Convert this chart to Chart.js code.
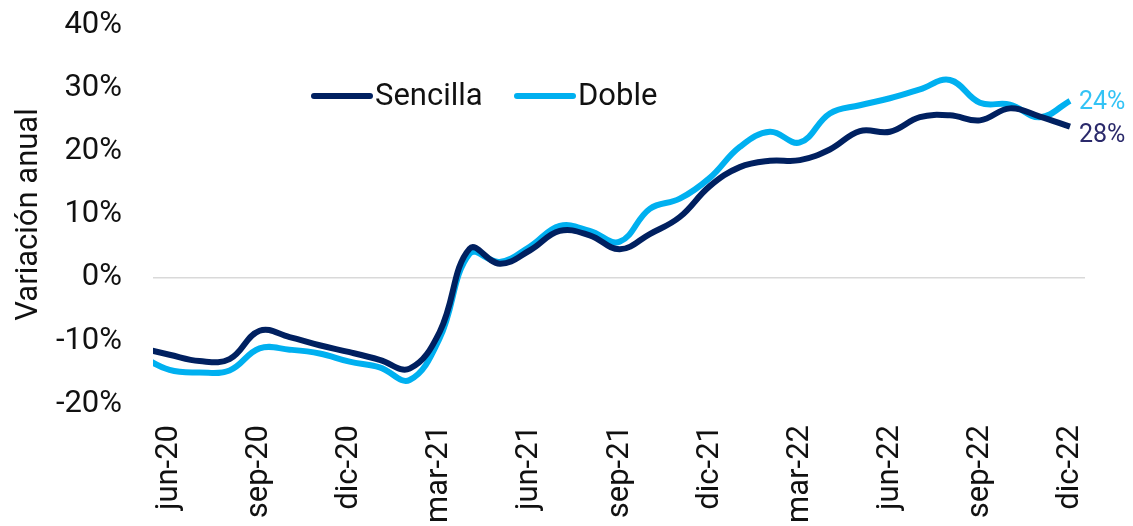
<!DOCTYPE html>
<html lang="es">

<head>
    <meta charset="UTF-8">
    <title>Variación anual</title>
    <script src="https://cdn.jsdelivr.net/npm/chart.js"></script>
    <style>
        body { margin: 0; background: #fff; }
        .chart-box { width: 1133px; height: 526px; position: relative; }
    </style>
</head>

<body>
    <div class="chart-box">
        <canvas id="myChart"></canvas>
    </div>

    <script>
        // monthly data, may-20 .. dic-22 (may-20 only feeds the clipped left edge)
        const months = ['may-20', 'jun-20', 'jul-20', 'ago-20', 'sep-20', 'oct-20', 'nov-20', 'dic-20',
            'ene-21', 'feb-21', 'mar-21', 'abr-21', 'may-21', 'jun-21', 'jul-21', 'ago-21', 'sep-21',
            'oct-21', 'nov-21', 'dic-21', 'ene-22', 'feb-22', 'mar-22', 'abr-22', 'may-22', 'jun-22',
            'jul-22', 'ago-22', 'sep-22', 'oct-22', 'nov-22', 'dic-22'];

        const sencilla = [-11.1, -12.2, -13.2, -12.9, -8.4, -9.4, -10.7, -11.8,
            -13.0, -14.4, -8.6, 4.6, 2.2, 4.3, 7.4, 6.7, 4.5,
            6.9, 9.6, 14.5, 17.5, 18.5, 18.6, 20.3, 23.2, 23.1,
            25.4, 25.7, 24.9, 26.8, 25.5, 23.9];

        const doble = [-12.3, -14.6, -15.0, -14.7, -11.2, -11.4, -12.0, -13.3,
            -14.2, -16.2, -9.6, 3.8, 2.5, 4.9, 8.2, 7.4, 5.7,
            10.9, 12.5, 15.8, 20.7, 23.1, 21.4, 26.0, 27.3, 28.4,
            29.8, 31.3, 27.7, 27.4, 25.4, 28.0];

        const tickLabels = ['jun-20', 'sep-20', 'dic-20', 'mar-21', 'jun-21', 'sep-21',
            'dic-21', 'mar-22', 'jun-22', 'sep-22', 'dic-22'];
        const endLabels = ['28%', '24%'];

        const DARK = '#002060';
        const LIGHT = '#00B0F0';
        const FONT = 'Roboto';

        // x value = months since jun-20
        const toPoints = arr => arr.map((v, i) => ({ x: i - 1, y: v }));

        const legendAndLabels = {
            id: 'legendAndLabels',
            afterDatasetsDraw(chart) {
                const ctx = chart.ctx;
                ctx.save();
                // legend inside the plot
                const items = [[314, 375], [517, 578]];
                chart.data.datasets.forEach((ds, i) => {
                    const [x0, tx] = items[i];
                    ctx.strokeStyle = ds.borderColor;
                    ctx.lineWidth = 6;
                    ctx.lineCap = 'round';
                    ctx.beginPath();
                    ctx.moveTo(x0, 96);
                    ctx.lineTo(x0 + 56, 96);
                    ctx.stroke();
                    ctx.fillStyle = '#111';
                    ctx.font = '31px ' + FONT;
                    ctx.textBaseline = 'middle';
                    ctx.textAlign = 'left';
                    ctx.fillText(ds.label, tx, 97);
                });
                // end-of-line labels
                const colors = ['#2B2A6B', '#33C3F5'];
                const dy = [9, 2];
                chart.data.datasets.forEach((ds, i) => {
                    const meta = chart.getDatasetMeta(i);
                    const pt = meta.data[meta.data.length - 1];
                    ctx.fillStyle = colors[i];
                    ctx.font = '25px ' + FONT;
                    ctx.textAlign = 'left';
                    ctx.textBaseline = 'middle';
                    ctx.fillText(endLabels[i], pt.x + 9, pt.y + dy[i]);
                });
                ctx.restore();
            }
        };

        const ctx = document.getElementById('myChart');

        const myChart = new Chart(ctx, {
            type: 'line',
            data: {
                datasets: [{
                    label: 'Sencilla',
                    data: toPoints(sencilla),
                    borderColor: DARK,
                    borderWidth: 6,
                    pointRadius: 0,
                    tension: 0.4,
                    clip: 0
                }, {
                    label: 'Doble',
                    data: toPoints(doble),
                    borderColor: LIGHT,
                    borderWidth: 6,
                    pointRadius: 0,
                    tension: 0.4,
                    clip: 0
                }]
            },
            options: {
                responsive: true,
                maintainAspectRatio: false,
                animation: false,
                layout: { padding: { top: 25, right: 48, left: 0, bottom: 0 } },
                plugins: {
                    legend: { display: false },
                    tooltip: { enabled: false }
                },
                scales: {
                    x: {
                        type: 'linear',
                        min: -0.55,
                        max: 30.5,
                        afterFit: s => { s.height = 122; },
                        afterBuildTicks: s => {
                            s.ticks = tickLabels.map((t, i) => ({ value: i * 3 }));
                        },
                        grid: { display: false, drawTicks: false },
                        border: { display: false },
                        ticks: {
                            minRotation: 90,
                            maxRotation: 90,
                            padding: 21,
                            color: '#111',
                            font: { family: FONT, size: 31 },
                            callback: v => tickLabels[Math.round(v / 3)]
                        }
                    },
                    y: {
                        min: -20,
                        max: 40,
                        afterFit: s => {
                            s.width = 153;
                            s.paddingTop = 0;
                            s.paddingBottom = 0;
                        },
                        grid: {
                            drawTicks: false,
                            lineWidth: 1.5,
                            color: c => c.tick && c.tick.value === 0 ? '#d9d9d9' : 'rgba(0,0,0,0)'
                        },
                        border: { display: false },
                        ticks: {
                            stepSize: 10,
                            padding: 31,
                            color: '#111',
                            font: { family: FONT, size: 31 },
                            callback: v => v + '%'
                        },
                        title: {
                            display: true,
                            text: 'Variación anual',
                            color: '#111',
                            font: { family: FONT, size: 31, lineHeight: 1.2 },
                            padding: { top: 11, bottom: 0 }
                        }
                    }
                }
            },
            plugins: [legendAndLabels]
        });
    </script>
</body>

</html>
